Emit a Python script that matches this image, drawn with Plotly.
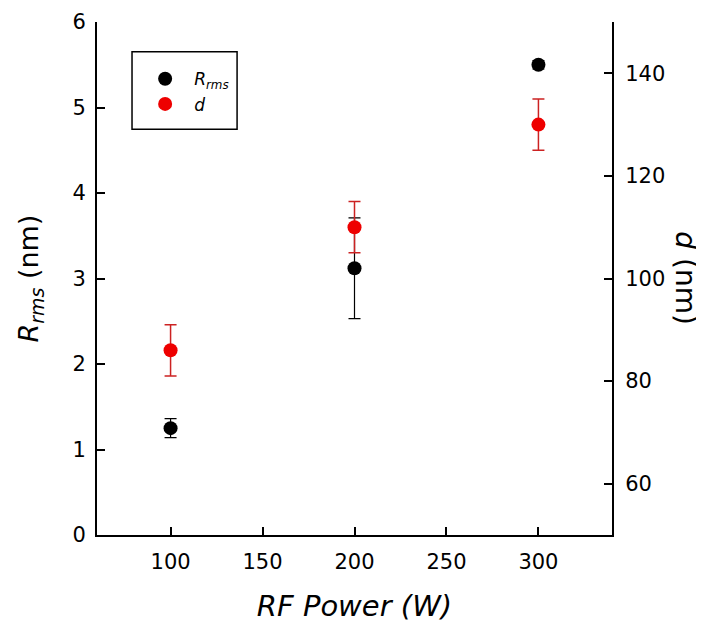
import plotly.graph_objects as go

power = [100, 200, 300]
rrms = [1.25, 3.12, 5.5]
rrms_err = [0.11, 0.59, 0.05]
d_vals = [86, 110, 130]
d_err = [5, 5, 5]

FONT = "DejaVu Sans"

fig = go.Figure()
fig.add_trace(go.Scatter(
    x=power, y=rrms, mode="markers", name="<i>R<sub>rms</sub></i>",
    marker=dict(color="black", size=14),
    error_y=dict(type="data", array=rrms_err, color="black", thickness=1.2, width=6),
))
fig.add_trace(go.Scatter(
    x=power, y=d_vals, mode="markers", name="<i>d</i>", yaxis="y2",
    marker=dict(color="#ee0000", size=14),
    error_y=dict(type="data", array=d_err, color="#cc2222", thickness=1.5, width=6),
))

axis_common = dict(showline=True, linecolor="black", linewidth=2, ticks="inside",
                   ticklen=8, tickwidth=2, tickcolor="black", showgrid=False,
                   zeroline=False, automargin=False,
                   tickfont=dict(family=FONT, size=21, color="black"))

fig.update_layout(
    width=704, height=628,
    margin=dict(l=89, r=100, t=14, b=101),
    paper_bgcolor="white", plot_bgcolor="white",
    font=dict(family=FONT, color="black"),
    showlegend=True,
    legend=dict(x=0.076, y=0.9235, xanchor="left", yanchor="top",
                bgcolor="rgba(0,0,0,0)", borderwidth=0,
                font=dict(family=FONT, size=17, color="black"),
                tracegroupgap=0, itemwidth=48),
    xaxis=dict(range=[60, 340], tickvals=[100, 150, 200, 250, 300], ticklabelstandoff=7,
               title=dict(text="<i>RF Power (W)</i>", font=dict(family=FONT, size=29), standoff=22),
               **axis_common),
    yaxis=dict(range=[0, 6], tickvals=[0, 1, 2, 3, 4, 5, 6], ticklabelstandoff=5,
               title=dict(text="<i>R</i><sub><i>rms</i></sub> (nm)", font=dict(family=FONT, size=27), standoff=26),
               **axis_common),
    yaxis2=dict(range=[50, 150], tickvals=[60, 80, 100, 120, 140], overlaying="y", side="right",
                ticklabelstandoff=7, **axis_common),
)
fig.add_shape(type="rect", xref="paper", yref="paper",
              x0=0.068, x1=0.272, y0=0.791, y1=0.942,
              line=dict(color="black", width=1.5), fillcolor="rgba(0,0,0,0)", layer="below")
fig.add_annotation(text="<i>d</i> (nm)", xref="paper", yref="paper", x=1.142, y=0.5,
                   xanchor="center", yanchor="middle",
                   textangle=90, showarrow=False,
                   font=dict(family=FONT, size=28, color="black"))
fig.write_html("out.html")
